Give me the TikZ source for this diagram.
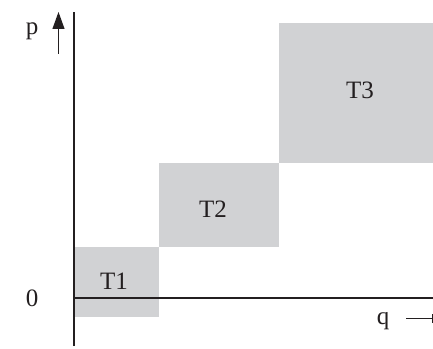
\documentclass[tikz,border=0pt]{standalone}
\usepackage{fontspec}
\setmainfont{Liberation Serif}
\usetikzlibrary{arrows.meta}
\definecolor{boxgray}{RGB}{209,210,212}
\definecolor{ink}{RGB}{35,31,32}
\begin{document}
\begin{tikzpicture}[x=1pt,y=1pt,
  region/.style={fill=boxgray,draw=none},
  lbl/.style={font=\fontsize{25}{29}\selectfont,text=ink,inner sep=0pt},
  axis/.style={draw=ink,line width=2.2pt}]
\useasboundingbox (0,0) rectangle (433,348);
% regions
\path[region] (74,31) rectangle (159,101);
\path[region] (159,101) rectangle (279,185);
\path[region] (279,185) rectangle (433,325);
\node[lbl] (t1) at (114,67) {T1};
\node[lbl] (t2) at (213,139) {T2};
\node[lbl] (t3) at (360,258) {T3};
% axes
\coordinate (ytop) at (74,336);
\coordinate (ybot) at (74,2);
\coordinate (xl) at (74,50);
\coordinate (xr) at (433,50);
\draw[axis] (ybot) -- (ytop);
\draw[axis] (xl) -- (xr);
% labels
\node[lbl] (p) at (32,317) {p};
\node[lbl] (zero) at (32,50) {0};
\node[lbl] (q) at (383,27) {q};
\coordinate (pa0) at (58.5,294);
\coordinate (pa1) at (58.5,336);
\draw[ink,line width=1.1pt,-{Triangle[length=17pt,width=12pt]}] (pa0) -- (pa1);
\coordinate (qa0) at (406,30);
\coordinate (qa1) at (432,30);
\draw[ink,line width=1pt] (qa0) -- (qa1);
\coordinate (qb0) at (432,25);
\coordinate (qb1) at (432,34);
\draw[ink,line width=1pt] (qb0) -- (qb1);
\end{tikzpicture}
\end{document}
